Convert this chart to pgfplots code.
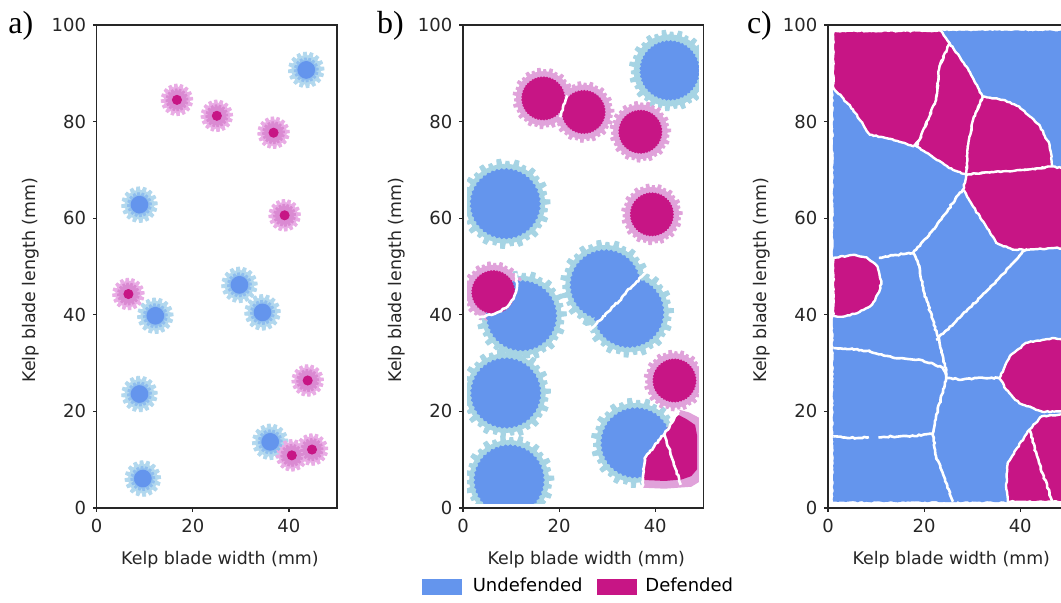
\documentclass[border=0pt]{standalone}
\usepackage{fontspec}
\setmainfont{DejaVu Sans}
\newfontfamily\panelfont{Liberation Serif}
\usepackage{pgfplots}
\pgfplotsset{compat=1.18}
\usetikzlibrary{decorations.pathmorphing}

% colony colours
\definecolor{blueD}{RGB}{100,149,237}
\definecolor{blueM}{RGB}{143,190,238}
\definecolor{blueL}{RGB}{178,216,238}
\definecolor{blueB}{RGB}{166,212,228}
\definecolor{magD}{RGB}{199,21,133}
\definecolor{magM}{RGB}{218,138,210}
\definecolor{magL}{RGB}{233,172,229}
\definecolor{magB}{RGB}{224,162,218}

% small toothed colony (16 teeth)
\pgfdeclareplotmark{gearA}{%
  \path[fill] (0:\pgfplotmarksize)
    \foreach \a in {0,22.5,...,337.5}{
      -- (\a:\pgfplotmarksize) -- ({\a+9}:\pgfplotmarksize)
      -- ({\a+12}:{0.8*\pgfplotmarksize}) -- ({\a+20}:{0.8*\pgfplotmarksize})}
    -- cycle;}
% grown colony rim (teeth of two lengths)
\pgfdeclareplotmark{gearB}{%
  \path[fill] (0:\pgfplotmarksize)
    \foreach \a in {0,24,...,336}{
      -- (\a:\pgfplotmarksize) -- ({\a+5}:\pgfplotmarksize)
      -- ({\a+6}:{0.88*\pgfplotmarksize}) -- ({\a+12}:{0.88*\pgfplotmarksize})
      -- ({\a+13}:{0.95*\pgfplotmarksize}) -- ({\a+17}:{0.95*\pgfplotmarksize})
      -- ({\a+18}:{0.88*\pgfplotmarksize}) -- ({\a+23}:{0.88*\pgfplotmarksize})}
    -- cycle;}
% colony body with a ragged edge
\pgfdeclareplotmark{gearC}{%
  \path[fill] (0:\pgfplotmarksize)
    \foreach \a in {0,8,...,352}{
      -- (\a:\pgfplotmarksize) -- ({\a+4}:{0.95*\pgfplotmarksize})}
    -- cycle;}

\pgfplotsset{
  kelp/.style={
    scale only axis, width=120.15pt, height=241.5pt,
    xmin=0, xmax=50, ymin=0, ymax=100,
    xtick={0,20,40}, ytick={0,20,...,100},
    tick align=outside, major tick length=1.8pt, tick pos=left,
    axis line style={line width=0.6pt, black!85},
    tick style={line width=0.6pt, black!85},
    tick label style={font=\fontsize{9}{10}\selectfont, black!85},
    /pgf/number format/assume math mode=true,
    xlabel={Kelp blade width (mm)},
    ylabel={Kelp blade length (mm)},
    every axis x label/.style={at={(axis description cs:0.513,-0.108)}, anchor=center,
      font=\fontsize{8.7}{10}\selectfont, text=black!85},
    every axis y label/.style={at={(axis description cs:-0.275,0.472)}, anchor=center, rotate=90,
      font=\fontsize{8.7}{10}\selectfont, text=black!85},
    axis on top,
    clip marker paths=true,
  },
  wline/.style={draw=white, line width=1.3pt, decorate,
    decoration={random steps, segment length=1.2pt, amplitude=0.35pt}},
  cell/.style={fill=magD, draw=white, line width=1.2pt, decorate,
    decoration={random steps, segment length=1.2pt, amplitude=0.3pt}},
}

\begin{document}
\begin{tikzpicture}
\useasboundingbox (0,0) rectangle (530.5pt,301pt);
\fill[white] (0,0) rectangle (530.5pt,301pt);

% ---------------- a) initial settlement ----------------
\begin{axis}[kelp, at={(48.35pt,47pt)}, anchor=south west]
  \addplot[only marks, mark=gearA, mark size=8.9pt, color=blueL] coordinates {
    (43.6,90.7) (8.9,62.8) (29.7,46.2) (34.5,40.5) (12.2,39.8) (8.9,23.6) (36.1,13.7) (9.6,6.1)};
  \addplot[only marks, mark=gearA, mark size=7.9pt, color=magL] coordinates {
    (16.7,84.5) (25.0,81.2) (36.8,77.7) (39.1,60.6) (6.6,44.3) (43.9,26.4) (40.6,10.9) (44.8,12.1)};
  \addplot[only marks, mark=gearA, mark size=6.0pt, color=blueM] coordinates {
    (43.6,90.7) (8.9,62.8) (29.7,46.2) (34.5,40.5) (12.2,39.8) (8.9,23.6) (36.1,13.7) (9.6,6.1)};
  \addplot[only marks, mark=gearA, mark size=5.5pt, color=magM] coordinates {
    (16.7,84.5) (25.0,81.2) (36.8,77.7) (39.1,60.6) (6.6,44.3) (43.9,26.4) (40.6,10.9) (44.8,12.1)};
  \addplot[only marks, mark=gearC, mark size=4.2pt, color=blueD] coordinates {
    (43.6,90.7) (8.9,62.8) (29.7,46.2) (34.5,40.5) (12.2,39.8) (8.9,23.6) (36.1,13.7) (9.6,6.1)};
  \addplot[only marks, mark=*, mark size=2.3pt, color=magD] coordinates {
    (16.7,84.5) (25.0,81.2) (36.8,77.7) (39.1,60.6) (6.6,44.3) (43.9,26.4) (40.6,10.9) (44.8,12.1)};
\end{axis}

% ---------------- b) colonies growing ----------------
\begin{axis}[kelp, at={(231.5pt,47pt)}, anchor=south west,
  legend style={at={(0.485,-0.128)}, anchor=north, draw=none, fill=none,
    legend columns=2, font=\fontsize{9}{10}\selectfont,
    /tikz/every even column/.append style={column sep=5pt}}]
  % pale rims
  \addplot[only marks, mark=gearB, mark size=22.4pt, color=blueB, forget plot] coordinates {
    (8.8,63) (29.6,46.2) (34.5,40.5) (12.2,39.8) (8.9,23.8) (9.6,5.8) (36,13.5)};
  \addplot[only marks, mark=gearB, mark size=20.2pt, color=blueB, forget plot] coordinates {(43,90.6)};
  \addplot[only marks, mark=gearB, mark size=15.2pt, color=magB, forget plot] coordinates {
    (16.7,84.8) (25.1,82) (36.9,77.9) (39.3,60.8) (6.3,44.7) (44,26.4)};
  % undefended bodies
  \addplot[only marks, mark=gearC, mark size=17.6pt, color=blueD, forget plot] coordinates {
    (8.8,63) (29.6,46.2) (34.5,40.5) (12.2,39.8) (8.9,23.8) (9.6,5.8) (36,13.5)};
  \addplot[only marks, mark=gearC, mark size=14.9pt, color=blueD, forget plot] coordinates {(43,90.6)};
  % defended pair squeezed against the lower right colony
  \addplot[fill=magB, draw=none, forget plot] coordinates {
    (37.3,4.2) (37.6,10.2) (39.8,12.8) (42,15.5) (43.5,17.7) (44.8,20.4) (47,19.8) (49.3,18.6)
    (49.3,5.5) (47.5,4.4) (42,4.0)} -- cycle;
  \addplot[fill=magD, draw=none, forget plot] coordinates {
    (37.5,5.8) (37.7,10.2) (39.5,12.5) (41.5,15) (43,17.3) (44.6,19.4) (46.5,18.4) (48.3,17.2)
    (48.7,15) (48.7,8) (47.5,6.6) (45.5,5.9) (42,5.6)} -- cycle;
  % defended bodies
  \addplot[only marks, mark=gearC, mark size=10.8pt, color=magD, forget plot] coordinates {
    (16.7,84.8) (25.1,82) (36.9,77.9) (39.3,60.8) (6.3,44.7) (44,26.4)};
  % contact lines between colonies
  \addplot[wline, forget plot] coordinates {(20.2,80.9) (20.8,83) (21.7,85.4)};
  \addplot[wline, forget plot] coordinates {
    (26.4,36.8) (28,38.6) (29.5,39.8) (31,41.6) (32.5,42.8) (34,44.8) (35.8,46.4) (37.3,48) (38.7,49.4)};
  \addplot[wline, forget plot] coordinates {
    (1.2,38.9) (4,39.6) (6.6,40.2) (8.9,41.4) (10.5,43.3) (11.2,45.5) (11.1,48.6)};
  \addplot[wline, forget plot] coordinates {
    (37.3,3.8) (37.5,7) (37.8,10.3) (39.8,12.8) (42,15.5) (43.5,17.7) (45,20.2)};
  \addplot[wline, forget plot] coordinates {(41.8,15.4) (42.8,12.5) (43.8,9.5) (45.3,4.8)};
  % blade margin
  \addplot[draw=white, line width=3.9pt, forget plot] coordinates {(0,0) (50,0) (50,100) (0,100) (0,0)};
  \addlegendimage{legend image code/.code={\fill[blueD] (0pt,-3.75pt) rectangle (19.5pt,3.75pt); \path (23pt,0pt);}}
  \addlegendentry{Undefended}
  \addlegendimage{legend image code/.code={\fill[magD] (0pt,-3.75pt) rectangle (19.5pt,3.75pt); \path (22pt,0pt);}}
  \addlegendentry{Defended}
\end{axis}

% ---------------- c) blade fully covered ----------------
\begin{axis}[kelp, at={(414pt,47pt)}, anchor=south west]
  \addplot[fill=blueD, draw=none, decorate,
    decoration={random steps, segment length=1.2pt, amplitude=0.3pt}] coordinates {
    (1.1,1.3) (49.2,1.3) (49.2,98.8) (1.1,98.8)} -- cycle;
  % defended cells
  \addplot[cell] coordinates {(1.1,98.8) (23.5,98.8) (25.3,96.2) (23.2,91.4) (22.5,84.5) (19.1,76.3)
    (17.7,74.9) (13.5,76.3) (8.7,77.3) (5.2,82.5) (1.1,87)} -- cycle;
  \addplot[cell] coordinates {(25.3,96.2) (28.8,91.4) (32.2,85.2) (30.2,80.4) (29.1,74.9) (28.8,69.0)
    (26.0,70.0) (22,72.5) (18.4,74.9) (19.1,76.3) (22.5,84.5) (23.2,91.4)} -- cycle;
  \addplot[cell] coordinates {(32.2,85.2) (36.4,84.5) (39.8,83.1) (44,79.3) (46.1,75.2) (46.7,70.7)
    (42,70.1) (38,69.7) (33,69.5) (28.8,69.0) (29.1,74.9) (30.2,80.4)} -- cycle;
  \addplot[cell] coordinates {(28.8,69.0) (33,69.5) (38,69.7) (42,70.1) (46.7,70.7) (49.2,70.3)
    (49.2,53.8) (46.7,53.8) (41.9,53.5) (38.4,53.5) (35,54.9) (32.9,58.3) (30.2,62.4) (28.1,65.9)} -- cycle;
  \addplot[cell] coordinates {(1.1,51.8) (5.2,52.4) (8,51.9) (10.3,50) (11.1,47) (10.8,45.2) (9.8,43)
    (8.7,41.7) (6,40.3) (3,39.6) (1.1,39.8)} -- cycle;
  \addplot[cell] coordinates {(35.7,26.9) (37.8,31.4) (41.2,34.2) (46.7,35.2) (49.2,35) (49.2,20.2)
    (48.1,20.0) (44.7,19.9) (39.8,21.7) (37.1,24.5)} -- cycle;
  \addplot[cell] coordinates {(44.5,19.0) (41.9,16.2) (39.1,12.1) (37.4,9.4) (37.1,3.9) (37.4,1.3)
    (49.2,1.3) (49.2,19.3) (47.5,19.2)} -- cycle;
  % borders between neighbouring cells
  \addplot[wline] coordinates {(41.9,16.2) (43.9,9.4) (46.7,1.3)};
  \addplot[wline] coordinates {(28.1,65.9) (26.5,64) (24.5,61) (22.5,58.3) (20,55.5) (17.7,52.8)};
  \addplot[wline] coordinates {(17.7,52.8) (14,52.4) (10.6,51.8)};
  \addplot[wline] coordinates {(17.7,52.8) (19,50.1) (19.8,45.3) (21.8,39) (23.2,34.2) (24.6,28.6)
    (24.6,26.9) (23.2,21.7) (21.8,15.5) (22.5,10.7) (24.6,5.2) (26,1.3)};
  \addplot[wline] coordinates {(22.5,34.8) (26,38) (29.5,41.5) (32.9,44.8) (36.5,48.5) (40.5,53.1) (41.5,53.6)};
  \addplot[wline] coordinates {(1.1,33.1) (5,33) (8.7,32.4) (11.5,31.6) (14.3,31) (19.1,30.7) (22,29.8)
    (23.9,29) (24.6,27.5)};
  \addplot[wline] coordinates {(24.6,26.9) (28,26.6) (32,27) (35.7,26.9)};
  \addplot[wline] coordinates {(1.1,14.8) (4,14.5) (6.6,14.5) (8.5,14.7)};
  \addplot[wline] coordinates {(10.5,14.6) (13.3,14.8) (17,14.8) (21.6,15.4)};
\end{axis}

% panel letters
\node[anchor=base west, inner sep=0, font=\panelfont\fontsize{16}{16}\selectfont] at (4pt,284.5pt) {a)};
\node[anchor=base west, inner sep=0, font=\panelfont\fontsize{16}{16}\selectfont] at (188.3pt,284.5pt) {b)};
\node[anchor=base west, inner sep=0, font=\panelfont\fontsize{16}{16}\selectfont] at (373.3pt,284.5pt) {c)};
\end{tikzpicture}
\end{document}
